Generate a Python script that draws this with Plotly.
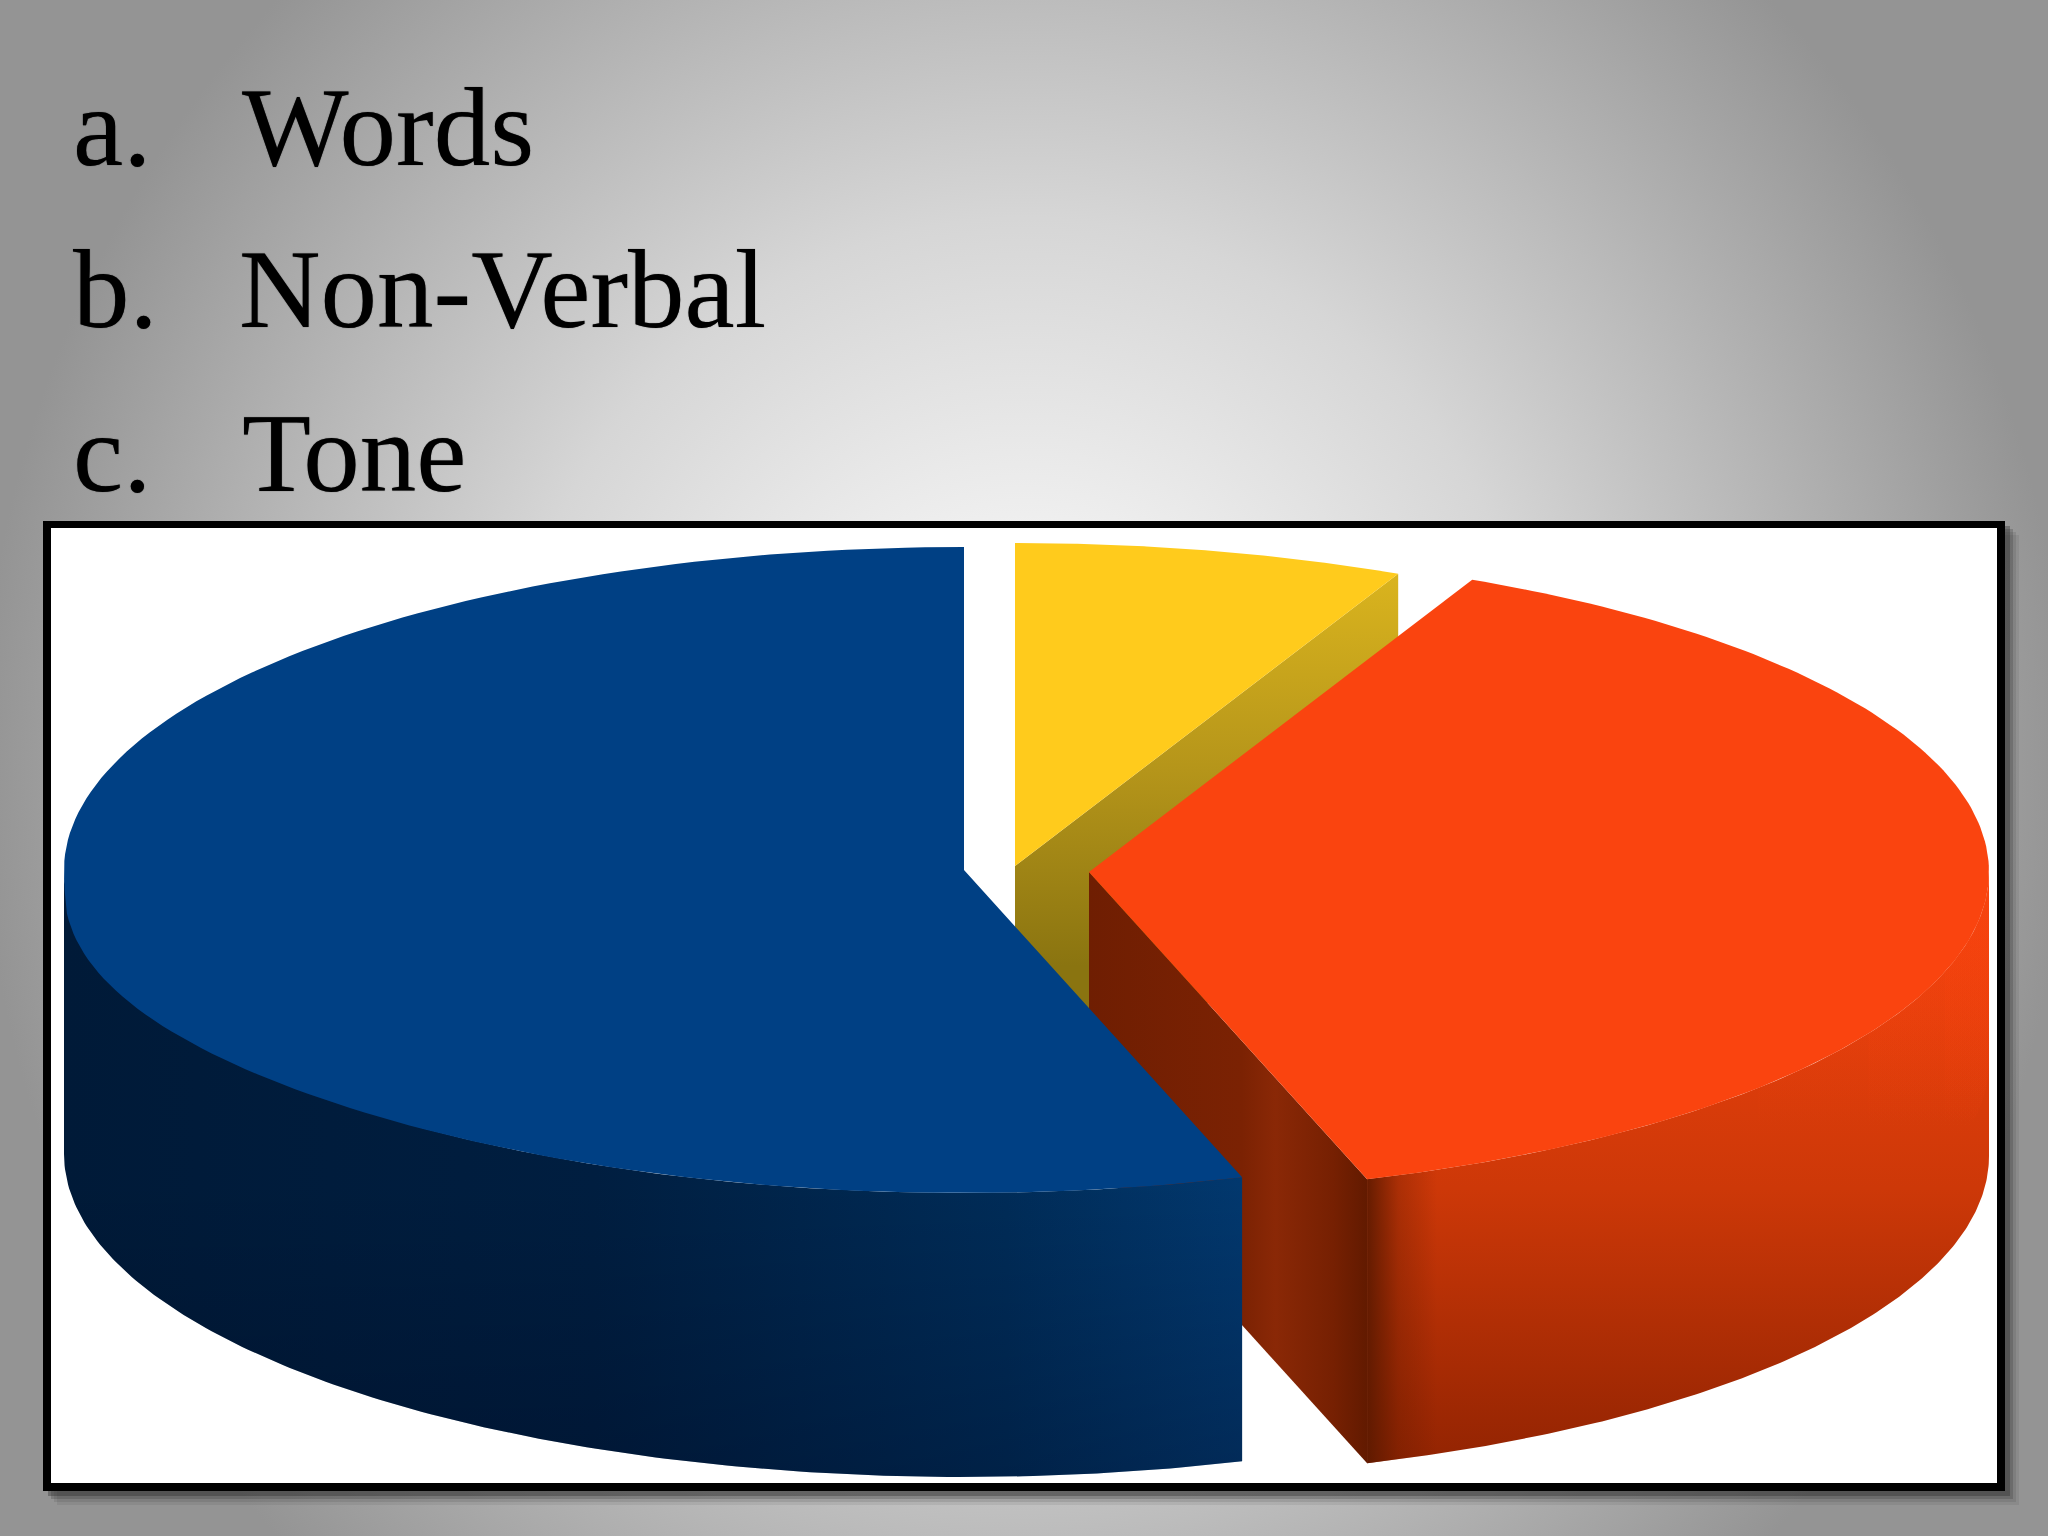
import numpy as np
import plotly.graph_objects as go

# --- data -------------------------------------------------------------
categories = ["Words", "Tone", "Non-Verbal"]
shares = [7, 38, 55]
list_marks = ["a.", "b.", "c."]
list_items = ["Words", "Non-Verbal", "Tone"]

# --- styling / placement ----------------------------------------------
APEX = {"Words": (1015, 866), "Tone": (1089, 872), "Non-Verbal": (964, 870)}
RX, RY, DEPTH = 900, 323, 284
TOP = {"Words": "#FFCB1C", "Tone": "#FA440F", "Non-Verbal": "#004084"}
FONT = "Liberation Serif"
LIST_Y = [190, 352, 516]
MARK_X = [72, 72, 72]
ITEM_X = [241, 238, 241]

fig = go.Figure()


def poly(x, y, color=None, grad=None):
    kw = {"fillgradient": grad} if grad else {"fillcolor": color}
    fig.add_trace(go.Scatter(x=list(x), y=list(y), mode="lines", fill="toself",
                             line=dict(width=0), hoverinfo="skip",
                             showlegend=False, **kw))


def rect(x0, y0, x1, y1, color=None, grad=None):
    poly([x0, x1, x1, x0, x0], [y0, y0, y1, y1, y0], color, grad)


def hgrad(a, b, scale):
    return dict(type="horizontal", start=a, stop=b, colorscale=scale)


def vgrad(a, b, scale):
    return dict(type="vertical", start=a, stop=b, colorscale=scale)


def rim(cat, a0, a1, n=160):
    cx, cy = APEX[cat]
    t = np.radians(np.linspace(a0, a1, n))
    return cx + RX * np.sin(t), cy - RY * np.cos(t)


# --- slide background --------------------------------------------------
rect(-20, 768 - 1100, 2068, 768 + 1100, grad=dict(
    type="radial",
    colorscale=[[0, "#f8f8f8"], [0.22, "#efefef"], [0.5, "#d6d6d6"],
                [0.7, "#bcbcbc"], [1, "#949494"]]))

# --- picture frame -----------------------------------------------------
for off, col in [(14, "rgba(60,60,60,0.10)"), (11, "rgba(60,60,60,0.15)"),
                 (8, "rgba(50,50,50,0.25)"), (5, "rgba(40,40,40,0.35)")]:
    rect(43 + off, 521 + off, 2005 + off, 1491 + off, col)
rect(43, 521, 2005, 1491, "#000000")
rect(51, 528, 1997, 1483, "#ffffff")

# --- 3-D pie built from the shares --------------------------------------
edges = np.concatenate([[0], np.cumsum(shares)]) / sum(shares) * 360
span = {c: (edges[i], edges[i + 1]) for i, c in enumerate(categories)}

# Words
c = "Words"
a0, a1 = span[c]
ax, ay = APEX[c]
ex, ey = rim(c, a1, a1, 1)
poly([ax, ex[0], ex[0], ax, ax], [ay, ey[0], ey[0] + DEPTH, ay + DEPTH, ay],
     grad=vgrad(ey[0], ay + 100, [[0, "#DAB41E"], [0.5, "#B5951A"], [1, "#8A7410"]]))
x, y = rim(c, a0, a1)
poly([ax, *x, ax], [ay, *y, ay], TOP[c])

# Tone
c = "Tone"
a0, a1 = span[c]
ax, ay = APEX[c]
ex, ey = rim(c, a1, a1, 1)
poly([ax, ex[0], ex[0], ax, ax], [ay, ey[0], ey[0] + DEPTH, ay + DEPTH, ay],
     grad=hgrad(ax, ex[0], [[0, "#6F1E02"], [0.55, "#7B2203"], [0.67, "#8A2806"],
                            [0.88, "#762002"], [1, "#621A00"]]))
x, y = rim(c, 90, a1)
wx = [*x, *x[::-1], x[0]]
wy = [*y, *(y[::-1] + DEPTH), y[0]]
poly(wx, wy, grad=vgrad(880, 1462, [[0, "#F5440F"], [0.53, "#CD3808"], [1, "#932402"]]))
poly(wx, wy, grad=hgrad(ex[0], ex[0] + 70, [[0, "rgba(90,25,0,0.9)"], [0.45, "rgba(90,25,0,0.3)"],
                                            [1, "rgba(90,25,0,0)"]]))
for a_end in (108, 120, 132):
    gx, gy = rim(c, 90, a_end, 60)
    poly([*gx, *gx[::-1], gx[0]], [*gy, *(gy[::-1] + 190), gy[0]],
         grad=vgrad(880, 1130, [[0, "rgba(250,68,15,0.30)"], [1, "rgba(250,68,15,0)"]]))
x, y = rim(c, a0, a1)
poly([ax, *x, ax], [ay, *y, ay], TOP[c])

# Non-Verbal
c = "Non-Verbal"
a0, a1 = span[c]
ax, ay = APEX[c]
x, y = rim(c, a0, 270)
wx = [*x, *x[::-1], x[0]]
wy = [*y, *(y[::-1] + DEPTH), y[0]]
poly(wx, wy, grad=hgrad(65, x[0], [[0, "#001A38"], [0.45, "#001E40"], [0.8, "#002C58"], [1, "#02386E"]]))
poly(wx, wy, grad=vgrad(1180, 1480, [[0, "rgba(0,0,20,0)"], [1, "rgba(0,0,20,0.25)"]]))
x, y = rim(c, a0, a1)
# the near-left shoulder of the top face sags a little in the picture
theta = np.radians(np.linspace(a0, a1, x.size))
front = np.cos(theta) < 0
sag = 18 * np.sin(theta) ** 6 * np.minimum(1, np.abs(np.cos(theta)) / 0.08)
y = np.where(front, y + sag, y)
poly([ax, *x, ax], [ay, *y, ay], TOP[c])

# --- list text ---------------------------------------------------------
for mark, item, y0, mx, ix in zip(list_marks, list_items, LIST_Y, MARK_X, ITEM_X):
    for txt, tx in ((mark, mx), (item, ix)):
        fig.add_annotation(x=tx, y=y0, text=txt, showarrow=False, xanchor="left",
                           yanchor="bottom", xref="x", yref="y", borderpad=0,
                           font=dict(family=FONT, size=113, color="#000000",
                                     shadow="0 0 1px rgba(0,0,0,0.7)"))

fig.update_layout(
    width=2048, height=1536, margin=dict(l=0, r=0, t=0, b=0),
    paper_bgcolor="#b0b0b0", plot_bgcolor="#b0b0b0", showlegend=False,
    xaxis=dict(range=[0, 2048], visible=False, fixedrange=True),
    yaxis=dict(range=[1536, 0], visible=False, fixedrange=True),
)
fig.write_html("out.html", config=dict(displayModeBar=False),
               post_script="document.body.style.margin='0';")
